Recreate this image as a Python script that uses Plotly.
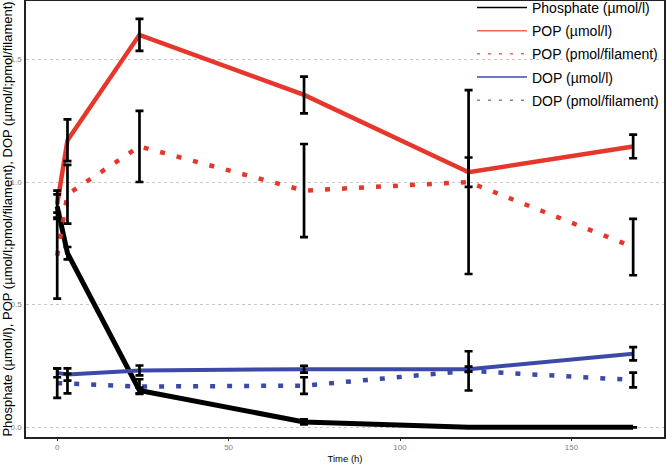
import plotly.graph_objects as go

time_h = [0, 3, 24, 72, 120, 168]
phosphate = [0.90, 0.71, 0.15, 0.022, 0.0, 0.0]
phosphate_err = [0.05, 0.025, 0.012, 0.01, 0.0, 0.0]
pop_umol = [0.91, 1.17, 1.60, 1.355, 1.04, 1.145]
pop_umol_err = [0.055, 0.085, 0.065, 0.075, 0.06, 0.048]
pop_pmol = [0.70, 0.95, 1.145, 0.965, 1.0, 0.735]
pop_pmol_err = [0.175, 0.12, 0.145, 0.19, 0.375, 0.115]
dop_umol = [0.222, 0.215, 0.232, 0.237, 0.237, 0.30]
dop_umol_err = [0.018, 0.025, 0.02, 0.014, 0.01, 0.027]
dop_pmol = [0.18, 0.178, 0.166, 0.17, 0.23, 0.193]
dop_pmol_err = [0.06, 0.04, 0.03, 0.034, 0.08, 0.03]

names = ["Phosphate (µmol/l)", "POP (µmol/l)", "POP (pmol/filament)",
         "DOP (µmol/l)", "DOP (pmol/filament)"]
x_ticks = [0, 50, 100, 150]
y_ticks = [0.0, 0.5, 1.0, 1.5]
y_tick_text = ["0.0", "0.5", "1.0", "1.5"]

RED = "#e5372b"
BLUE = "#3d49a8"
BLACK = "#000000"

series = [
    (phosphate, phosphate_err, BLACK, "solid", 5),
    (pop_umol, pop_umol_err, RED, "solid", 4.5),
    (pop_pmol, pop_pmol_err, RED, "5px,12px", 4.5),
    (dop_umol, dop_umol_err, BLUE, "solid", 4),
    (dop_pmol, dop_pmol_err, BLUE, "5px,12px", 4.5),
]
legend_colors = [BLACK, "#ee6a58", "#ee6a58", "#3d49b8", "#7a80d0"]
legend_dash = ["solid", "solid", "3px,8px", "solid", "3px,8px"]

fig = go.Figure()
for (vals, err, col, dash, w), name in zip(series, names):
    fig.add_trace(go.Scatter(x=time_h, y=vals, mode="lines", name=name,
                             line=dict(color=col, width=w, dash=dash),
                             showlegend=False, hoverinfo="skip"))
# error bars on top
for (vals, err, col, dash, w), name in zip(series, names):
    fig.add_trace(go.Scatter(x=time_h, y=vals, mode="markers",
                             marker=dict(size=1, color="rgba(0,0,0,0)"),
                             error_y=dict(type="data", array=err, color="black",
                                          thickness=2.7, width=4),
                             showlegend=False, hoverinfo="skip"))
# legend entries
for i, (name, col, dash) in enumerate(zip(names, legend_colors, legend_dash)):
    fig.add_trace(go.Scatter(x=[None], y=[None], mode="lines", name=name,
                             legendgroup="g%d" % i,
                             line=dict(color=col, width=1.5, dash=dash)))

fig.update_layout(
    width=666, height=470,
    margin=dict(l=26, r=2, t=1, b=33, autoexpand=False),
    paper_bgcolor="white", plot_bgcolor="white",
    font=dict(family="Liberation Sans, Arial, sans-serif", color="black"),
    showlegend=True,
    legend=dict(x=1.0, y=1.021, xanchor="right", yanchor="top",
                bgcolor="rgba(255,255,255,0)", font=dict(size=14, color="black"),
                itemwidth=50, tracegroupgap=2),
    xaxis=dict(range=[-9.1, 177], tickvals=x_ticks, ticks="outside", ticklen=2,
               tickcolor="#333", showline=True, linecolor="#222", linewidth=1.5,
               mirror=True, showgrid=False, zeroline=False,
               tickfont=dict(size=8, color="#808080",
                             family="Liberation Sans Narrow, Liberation Sans"),
               title=dict(text="Time (h)", standoff=4,
                          font=dict(size=9.5, color="black",
                                    family="Liberation Sans Narrow, Liberation Sans"))),
    yaxis=dict(range=[-0.0395, 1.738], tickvals=y_ticks, ticktext=y_tick_text,
               ticks="", ticklabelstandoff=1, showline=True, linecolor="#222",
               linewidth=1.5, mirror=True, showgrid=True, gridcolor="#c8c8c8",
               griddash="dot", gridwidth=0.8, zeroline=False, automargin=False,
               tickfont=dict(size=8, color="#808080",
                             family="Liberation Sans Narrow, Liberation Sans"),
               title=dict(text="Phosphate (µmol/l), POP (µmol/l;pmol/filament), DOP (µmol/l;pmol/filament)",
                          standoff=0, font=dict(size=13, color="black"))),
)
fig.write_html("out.html", config={"displayModeBar": False},
               post_script="document.body.style.margin='0';")
